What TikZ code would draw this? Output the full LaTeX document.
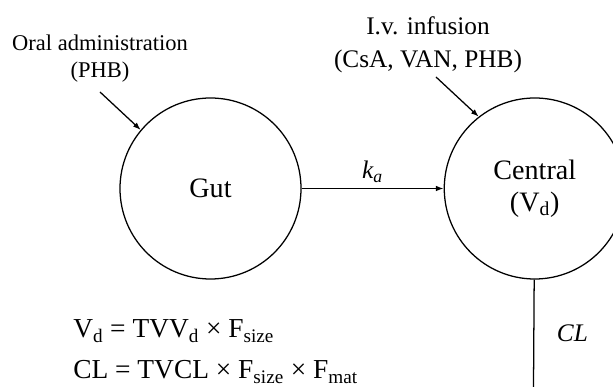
\documentclass[tikz,border=0pt]{standalone}
\usepackage{fontspec}
\setmainfont{Liberation Serif}
\usetikzlibrary{arrows.meta, positioning}

\begin{document}
\begin{tikzpicture}[
  node distance=3.55cm,
  comp/.style={circle, draw, line width=0.9pt, minimum size=4.525cm, inner sep=0pt, align=center, font=\fontsize{20}{22.8}\selectfont},
  route/.style={align=center, inner sep=0pt},
  eqn/.style={anchor=base west, inner sep=0pt, font=\fontsize{19.5}{24}\selectfont},
  rate/.style={inner sep=0pt, font=\fontsize{18}{21}\selectfont\itshape},
  arrow/.style={-{Latex[length=5.5pt,width=4pt]}, line width=0.9pt}
]
\clip (0,0) rectangle (15.325,9.675);

\node (gut) [comp] at (5.2625,4.9625) {Gut};
\node (central) [comp, right=of gut] {Central\\(V\textsubscript{d})};

\node (oral) [route, font=\fontsize{16}{19.2}\selectfont] at (2.5,8.21) {Oral administration\\(PHB)};
\node (iv) [route, font=\fontsize{18}{23.5}\selectfont] at (10.7,8.55) {I.v. infusion\\(CsA, VAN, PHB)};
\coordinate (oral_start) at (2.5,7.375);
\coordinate (iv_start) at (10.9,7.75);
\coordinate (elim) at (13.3375,0);

\node (vd_eq) [eqn] at (1.825,1.225) {V\textsubscript{d} = TVV\textsubscript{d} × F\textsubscript{size}};
\node (cl_eq) [eqn] at (1.825,0.2) {CL = TVCL × F\textsubscript{size} × F\textsubscript{mat}};

\draw [arrow] (oral_start) -- (gut.140);
\draw [arrow] (iv_start) -- (central.128);
\draw [arrow] (gut) -- node[rate, above=4pt] {k\textsubscript{a}} (central);
\draw [line width=0.9pt] (central) -- node[rate, right=16pt] {CL} (elim);

\end{tikzpicture}
\end{document}
